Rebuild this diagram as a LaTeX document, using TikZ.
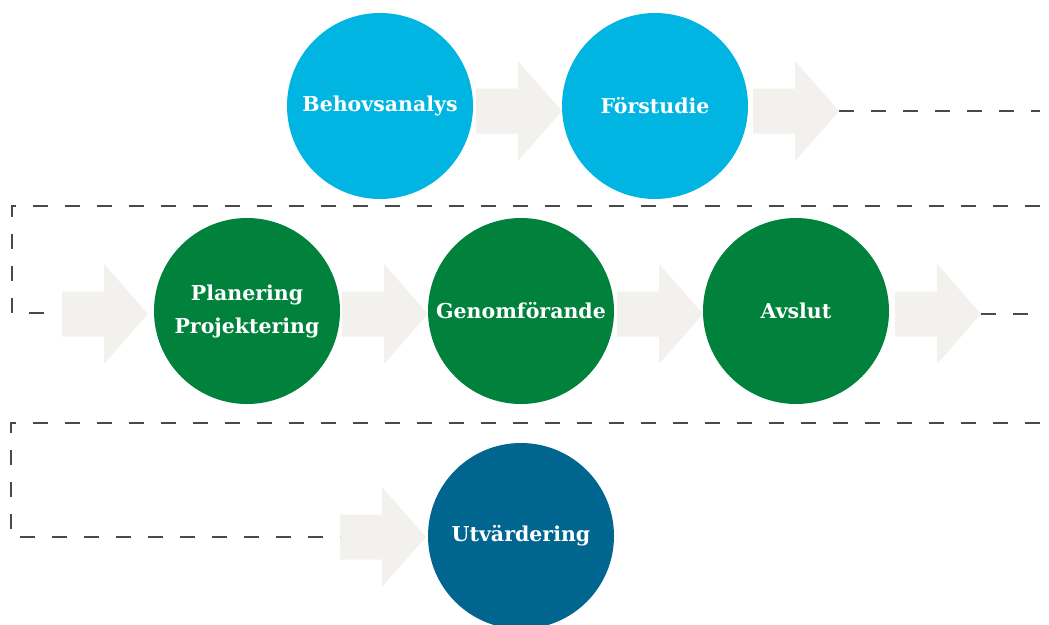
\documentclass[tikz,border=0pt]{standalone}
\usepackage{fontspec}
\setmainfont{DejaVu Serif}
\usepackage{tikz}
\usetikzlibrary{calc}
\definecolor{bleuclair}{HTML}{00B5E2}
\definecolor{vert}{HTML}{00823D}
\definecolor{bleufonce}{HTML}{00668F}
\definecolor{grisfleche}{HTML}{F2F1EE}
\definecolor{grispointille}{HTML}{4A4A4A}
\tikzstyle{etape}     =[circle, minimum size=186pt, inner sep=0pt, text=white, align=center, font=\bfseries\fontsize{20.5}{33}\selectfont]
\tikzstyle{fleche}    =[fill=grisfleche]
\tikzstyle{pointille} =[line width=1.3pt, color=grispointille, dash pattern=on 15pt off 17pt]

\begin{document}
\begin{tikzpicture}[x=1pt,y=-1pt]

\useasboundingbox (0,0) rectangle (1049,624);

%%%%%%%%%%%%%%%%%%%%%%%%
%Flèches grises (queue à gauche, centre vertical)
%%%%%%%%%%%%%%%%%%%%%%%%
\foreach \i/\x/\y in {1/476/111, 2/753/111, 3/62/314, 4/342/314, 5/617/314, 6/895/314, 7/340/537}{
\begin{scope}[shift={(\x,\y)}]
\coordinate (queue\i) at (0,0);
\coordinate (pointe\i) at (86,0);
\fill[fleche] (0,-22.5) -- (42,-22.5) -- (42,-50) -- (86,0) -- (42,50) -- (42,22.5) -- (0,22.5) -- cycle;
\end{scope}
}

%%%%%%%%%%%%%%%%%%%%%%%%
%Étapes
%%%%%%%%%%%%%%%%%%%%%%%%
\node[etape, fill=bleuclair] (behov) at (380,106) {Behovsanalys};
\node[etape, fill=bleuclair] (forstudie) at (655,106) {Förstudie};
\node[etape, fill=vert] (planering) at (247,311) {Planering\\Projektering};
\node[etape, fill=vert] (genomforande) at (521,311) {Genomförande};
\node[etape, fill=vert] (avslut) at (796,311) {Avslut};
\node[etape, fill=bleufonce] (utvardering) at (521,536) {Utvärdering};

%%%%%%%%%%%%%%%%%%%%%%%%
%Traits pointillés de retour à la ligne
%%%%%%%%%%%%%%%%%%%%%%%%
\coordinate (fin1) at (1040,111);
\coordinate (debut2) at (1040,206);
\coordinate (coin2a) at (12,206);
\coordinate (coin2b) at (12,313);
\coordinate (fin2) at (49,313);
\coordinate (fin3) at (1040,314);
\coordinate (debut4) at (1040,423);
\coordinate (coin4a) at (11,423);
\coordinate (coin4b) at (11,537);

\draw[pointille] (pointe2) -- (fin1);
\draw[pointille] (debut2) -- (coin2a) -- (coin2b) -- (fin2);
\draw[pointille] (pointe6) -- (fin3);
\draw[pointille] (debut4) -- (coin4a) -- (coin4b) -- (queue7);

\end{tikzpicture}
\end{document}
